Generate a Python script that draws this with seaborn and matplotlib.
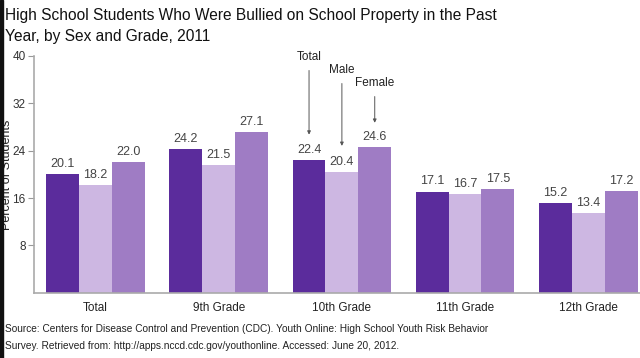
import numpy as np
import pandas as pd
import matplotlib
matplotlib.use("Agg")
import matplotlib.pyplot as plt
import seaborn as sns

# Données
grades = ["Total", "9th Grade", "10th Grade", "11th Grade", "12th Grade"]
groups = ["Total", "Male", "Female"]
total_vals = [20.1, 24.2, 22.4, 17.1, 15.2]
male_vals = [18.2, 21.5, 20.4, 16.7, 13.4]
female_vals = [22.0, 27.1, 24.6, 17.5, 17.2]
colors = ["#5b2c9c", "#cdb7e2", "#9f7cc4"]
yticks = [8, 16, 24, 32, 40]

df = pd.DataFrame({
    "grade": grades * 3,
    "group": ["Total"] * 5 + ["Male"] * 5 + ["Female"] * 5,
    "value": total_vals + male_vals + female_vals,
})

sns.set_style("white")
plt.rcParams["font.family"] = ["Liberation Sans", "DejaVu Sans"]

fig = plt.figure(figsize=(6.4, 3.58), dpi=100)
ax = fig.add_axes([0.053, 0.182, 0.947, 0.662])

sns.barplot(data=df, x="grade", y="value", hue="group", order=grades,
            hue_order=groups, palette=colors, width=0.8, saturation=1,
            linewidth=0, ax=ax, legend=False)

for c in ax.containers:
    ax.bar_label(c, fmt="%.1f", padding=3, fontsize=9, color="#444444")

ax.set_xlim(-0.5, 4.42)
ax.set_ylim(0, 40)
ax.set_yticks(yticks)
ax.set_xlabel("")
ax.set_ylabel("Percent of Students", fontsize=9, color="#222222")
ax.yaxis.set_label_coords(-0.034, 0.5)
ax.tick_params(axis="y", left=True, length=4, width=0.8, color="#999999",
               labelsize=8.5, labelcolor="#333333", pad=2)
ax.tick_params(axis="x", bottom=False, labelsize=8.5, labelcolor="#222222", pad=3)
for s in ["top", "right"]:
    ax.spines[s].set_visible(False)
for s in ["left", "bottom"]:
    ax.spines[s].set_color("#aaaaaa")
    ax.spines[s].set_linewidth(1.2)

# Flèches de légende sur le groupe 10th Grade
off = 0.8 / 3
notes = [("Total", 2 - off, 26.7, 39.8),
         ("Male", 2.0, 24.8, 37.6),
         ("Female", 2 + off, 28.7, 35.4)]
for txt, xb, yb, yt in notes:
    ax.annotate(txt, xy=(xb, yb), xytext=(xb, yt), ha="center", va="center",
                fontsize=8.5, color="#222222",
                arrowprops=dict(arrowstyle="-|>", color="#555555", lw=0.7,
                                mutation_scale=5, shrinkA=3, shrinkB=0))

fig.text(0.008, 0.979, "High School Students Who Were Bullied on School Property in the Past\nYear, by Sex and Grade, 2011",
         ha="left", va="top", fontsize=11.2, color="#111111", linespacing=1.55)
fig.text(0.008, 0.094, "Source: Centers for Disease Control and Prevention (CDC). Youth Online: High School Youth Risk Behavior\nSurvey. Retrieved from: http://apps.nccd.cdc.gov/youthonline. Accessed: June 20, 2012.",
         ha="left", va="top", fontsize=7.3, color="#222222", linespacing=1.8)

fig.patches.append(plt.Rectangle((0, 0), 0.005, 1, transform=fig.transFigure,
                                 color="#111111", zorder=5))

fig.savefig("out.png", dpi=100)
